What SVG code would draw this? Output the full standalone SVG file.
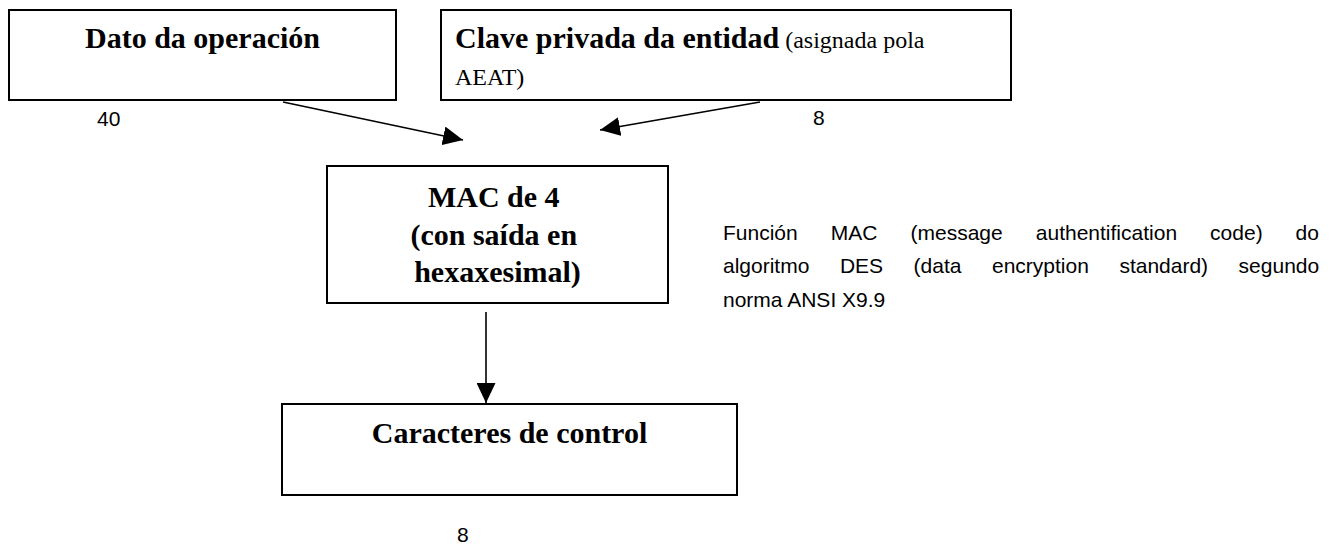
<svg xmlns="http://www.w3.org/2000/svg" width="1336" height="545" viewBox="0 0 1336 545">
  <style>
    .box { fill: #ffffff; stroke: #000000; stroke-width: 2; }
    .title { font-family: "Liberation Serif", "Times New Roman", serif; font-size: 30px; font-weight: bold; fill: #000000; }
    .small { font-family: "Liberation Serif", "Times New Roman", serif; font-size: 24px; font-weight: normal; fill: #000000; }
    .label { font-family: "Liberation Sans", Arial, sans-serif; font-size: 21px; fill: #000000; }
    .note { font-family: "Liberation Sans", Arial, sans-serif; font-size: 21px; fill: #000000; }
    .link { stroke: #000000; stroke-width: 1.6; fill: none; marker-end: url(#head); }
  </style>
  <defs>
    <marker id="head" markerUnits="userSpaceOnUse" markerWidth="20" markerHeight="19" refX="20" refY="9.5" orient="auto">
      <path d="M0,0 L20,9.5 L0,19 Z" fill="#000000"/>
    </marker>
  </defs>

  <rect width="1336" height="545" fill="#ffffff"/>

  <!-- input: operation data -->
  <g id="dato">
    <rect class="box" x="9" y="10" width="387" height="90"/>
    <text class="title" x="202.5" y="48" text-anchor="middle">Dato da operación</text>
  </g>

  <!-- input: private key -->
  <g id="clave">
    <rect class="box" x="441" y="10" width="570" height="90"/>
    <text x="455" y="48"><tspan class="title">Clave privada da entidad</tspan><tspan class="small"> (asignada pola</tspan></text>
    <text class="small" x="455" y="85">AEAT)</text>
  </g>

  <!-- MAC computation -->
  <g id="mac">
    <rect class="box" x="327" y="166" width="341" height="137"/>
    <text class="title" text-anchor="middle">
      <tspan x="497.5" y="207">MAC de 4</tspan>
      <tspan x="497.5" y="245">(con saída en</tspan>
      <tspan x="497.5" y="282">hexaxesimal)</tspan>
    </text>
  </g>

  <!-- output: control characters -->
  <g id="caracteres">
    <rect class="box" x="282" y="404" width="455" height="91"/>
    <text class="title" x="509.5" y="443" text-anchor="middle">Caracteres de control</text>
  </g>

  <!-- connectors -->
  <g id="connectors">
    <line class="link" x1="283" y1="102" x2="463" y2="140"/>
    <line class="link" x1="760" y1="102" x2="600" y2="130"/>
    <line class="link" x1="486" y1="312" x2="486" y2="403"/>
  </g>

  <!-- length labels -->
  <g id="labels">
    <text class="label" x="97" y="126">40</text>
    <text class="label" x="813" y="125">8</text>
    <text class="label" x="457" y="542">8</text>
  </g>

  <!-- justified description, one tspan per word -->
  <g id="descricion">
    <text class="note" y="240">
      <tspan x="723">Función</tspan>
      <tspan x="830.8">MAC</tspan>
      <tspan x="910.5">(message</tspan>
      <tspan x="1035.8">authentification</tspan>
      <tspan x="1210.1">code)</tspan>
      <tspan x="1295.6">do</tspan>
    </text>
    <text class="note" y="273">
      <tspan x="723">algoritmo</tspan>
      <tspan x="839.9">DES</tspan>
      <tspan x="913.6">(data</tspan>
      <tspan x="992">encryption</tspan>
      <tspan x="1119.4">standard)</tspan>
      <tspan x="1238.6">segundo</tspan>
    </text>
    <text class="note" x="723" y="307">norma ANSI X9.9</text>
  </g>
</svg>
